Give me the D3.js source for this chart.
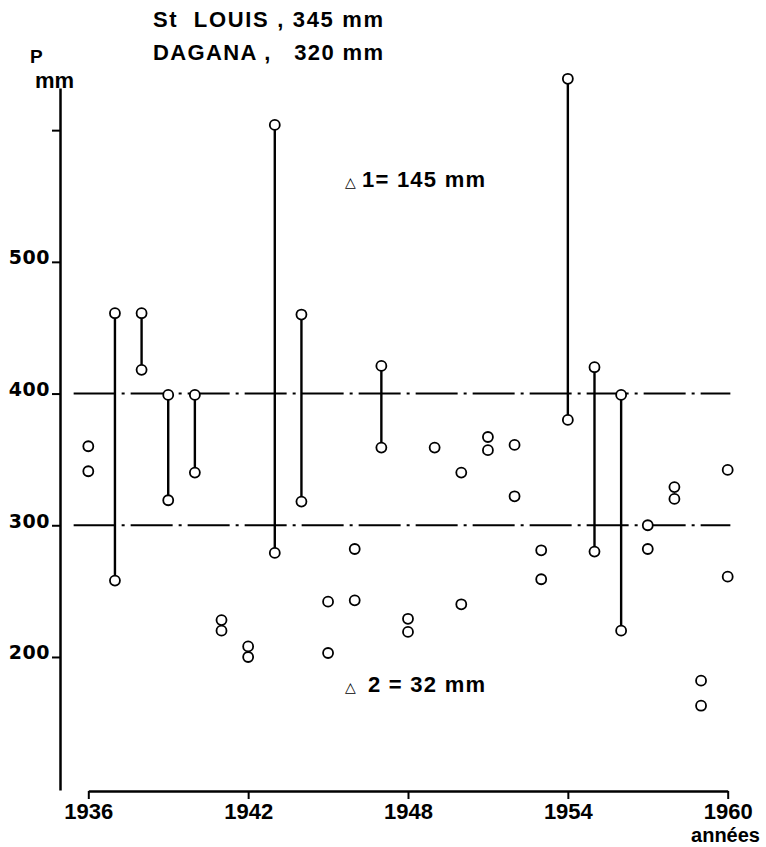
<!DOCTYPE html>
<html>
<head>
<meta charset="utf-8">
<script src="https://cdn.jsdelivr.net/npm/d3@7"></script>
<style>
  body { margin: 0; background: #fff; }
  svg { display: block; }
</style>
</head>
<body>
<div id="chart-area"></div>
<script>
// yearly rainfall, two stations (mm)
const years = [1936, 1937, 1938, 1939, 1940, 1941, 1942, 1943, 1944, 1945, 1946, 1947, 1948,
               1949, 1950, 1951, 1952, 1953, 1954, 1955, 1956, 1957, 1958, 1959, 1960];
const upperValues = [360, 461, 461, 399, 399, 228, 208, 604, 460, 242, 282, 421, 229,
                     359, 340, 367, 361, 281, 639, 420, 399, 300, 329, 182, 342];
const lowerValues = [341, 258, 418, 319, 340, 220, 200, 279, 318, 203, 243, 359, 219,
                     null, 240, 357, 322, 259, 380, 280, 220, 282, 320, 163, 261];
const linkedYears = [1937, 1938, 1939, 1940, 1943, 1944, 1947, 1954, 1955, 1956];
const refLevels = [400, 300];
const yTicks = [200, 300, 400, 500, 600];
const xTicks = [1936, 1942, 1948, 1954, 1960];
const titleLines = ["St  LOUIS , 345 mm", "DAGANA ,   320 mm"];
const deltaLabels = ["1= 145 mm", "2 = 32 mm"];

const svg = d3.select('#chart-area')
  .append('svg')
  .attr('width', 766)
  .attr('height', 847);

const x = d3.scaleLinear().domain([1936, 1960]).range([88.3, 727.7]);
const y = d3.scaleLinear().domain([99, 632]).range([790, 88]);

// x axis
const xAxis = svg.append('g')
  .attr('transform', 'translate(0,791)')
  .call(d3.axisBottom(x).tickValues(xTicks).tickFormat(d3.format('d'))
    .tickSize(8).tickSizeOuter(0).tickPadding(4));
xAxis.select('.domain').attr('stroke-width', 2.5);
xAxis.selectAll('.tick line').attr('stroke-width', 2);
xAxis.selectAll('.tick text')
  .attr('font-family', 'Liberation Sans, Arial, sans-serif')
  .attr('font-weight', 'bold')
  .attr('font-size', 22)
  .attr('fill', '#000');

// y axis
const yAxis = svg.append('g')
  .attr('transform', 'translate(60,0)')
  .call(d3.axisLeft(y).tickValues(yTicks).tickFormat(d => d === 600 ? '' : d)
    .tickSize(8).tickSizeOuter(0).tickPadding(2));
yAxis.select('.domain').attr('stroke-width', 2.5);
yAxis.selectAll('.tick line').attr('stroke-width', 2);
yAxis.selectAll('.tick text')
  .attr('dy', '0.1em')
  .attr('font-family', 'DejaVu Sans, sans-serif')
  .attr('font-weight', 'bold')
  .attr('font-size', 19)
  .attr('letter-spacing', 0.5)
  .attr('fill', '#000');

// dash-dot reference lines
svg.selectAll('.ref')
  .data(refLevels)
  .enter()
  .append('line')
  .attr('class', 'ref')
  .attr('x1', x(1935.45))
  .attr('x2', x(1960.1))
  .attr('y1', d => y(d))
  .attr('y2', d => y(d))
  .attr('stroke', '#000')
  .attr('stroke-width', 2)
  .attr('stroke-dasharray', '42,6,3,6');

const rows = years.map((yr, i) => ({ year: yr, hi: upperValues[i], lo: lowerValues[i] }));

// vertical links between the two stations
svg.selectAll('.link')
  .data(rows.filter(r => linkedYears.includes(r.year)))
  .enter()
  .append('line')
  .attr('class', 'link')
  .attr('x1', d => x(d.year))
  .attr('x2', d => x(d.year))
  .attr('y1', d => y(d.hi))
  .attr('y2', d => y(d.lo))
  .attr('stroke', '#000')
  .attr('stroke-width', 2.4);

const points = [];
rows.forEach(r => {
  points.push({ year: r.year, v: r.hi });
  if (r.lo !== null) points.push({ year: r.year, v: r.lo });
});

svg.selectAll('.pt')
  .data(points)
  .enter()
  .append('circle')
  .attr('class', 'pt')
  .attr('cx', d => x(d.year))
  .attr('cy', d => y(d.v))
  .attr('r', 5)
  .attr('fill', '#fff')
  .attr('stroke', '#000')
  .attr('stroke-width', 1.8);

// titles
svg.selectAll('.title')
  .data(titleLines)
  .enter()
  .append('text')
  .attr('class', 'title')
  .attr('x', 153)
  .attr('y', (_, i) => 27 + i * 33)
  .attr('textLength', 230)
  .attr('lengthAdjust', 'spacing')
  .style('white-space', 'pre')
  .attr('font-family', 'Liberation Sans, Arial, sans-serif')
  .attr('font-weight', 'bold')
  .attr('font-size', 22)
  .text(d => d);

// axis titles
svg.append('text')
  .attr('x', 30).attr('y', 63)
  .attr('font-family', 'Liberation Sans, Arial, sans-serif')
  .attr('font-weight', 'bold').attr('font-size', 19)
  .text('P');
svg.append('text')
  .attr('x', 35).attr('y', 88)
  .attr('font-family', 'Liberation Sans, Arial, sans-serif')
  .attr('font-weight', 'bold').attr('font-size', 22)
  .text('mm');
svg.append('text')
  .attr('x', 760).attr('y', 842)
  .attr('text-anchor', 'end')
  .attr('font-family', 'Liberation Sans, Arial, sans-serif')
  .attr('font-weight', 'bold').attr('font-size', 20)
  .text('années');

// delta labels
const deltaY = [187, 692];
deltaLabels.forEach((lab, i) => {
  svg.append('text')
    .attr('x', 345).attr('y', deltaY[i])
    .attr('font-family', 'DejaVu Sans, sans-serif')
    .attr('font-weight', 'bold').attr('font-size', 14)
    .text('\u25B3');
  svg.append('text')
    .attr('x', i === 0 ? 362 : 368).attr('y', deltaY[i])
    .attr('textLength', i === 0 ? 123 : 117)
    .attr('lengthAdjust', 'spacing')
    .style('white-space', 'pre')
    .attr('font-family', 'Liberation Sans, Arial, sans-serif')
    .attr('font-weight', 'bold').attr('font-size', 22)
    .text(lab);
});
</script>
</body>
</html>
